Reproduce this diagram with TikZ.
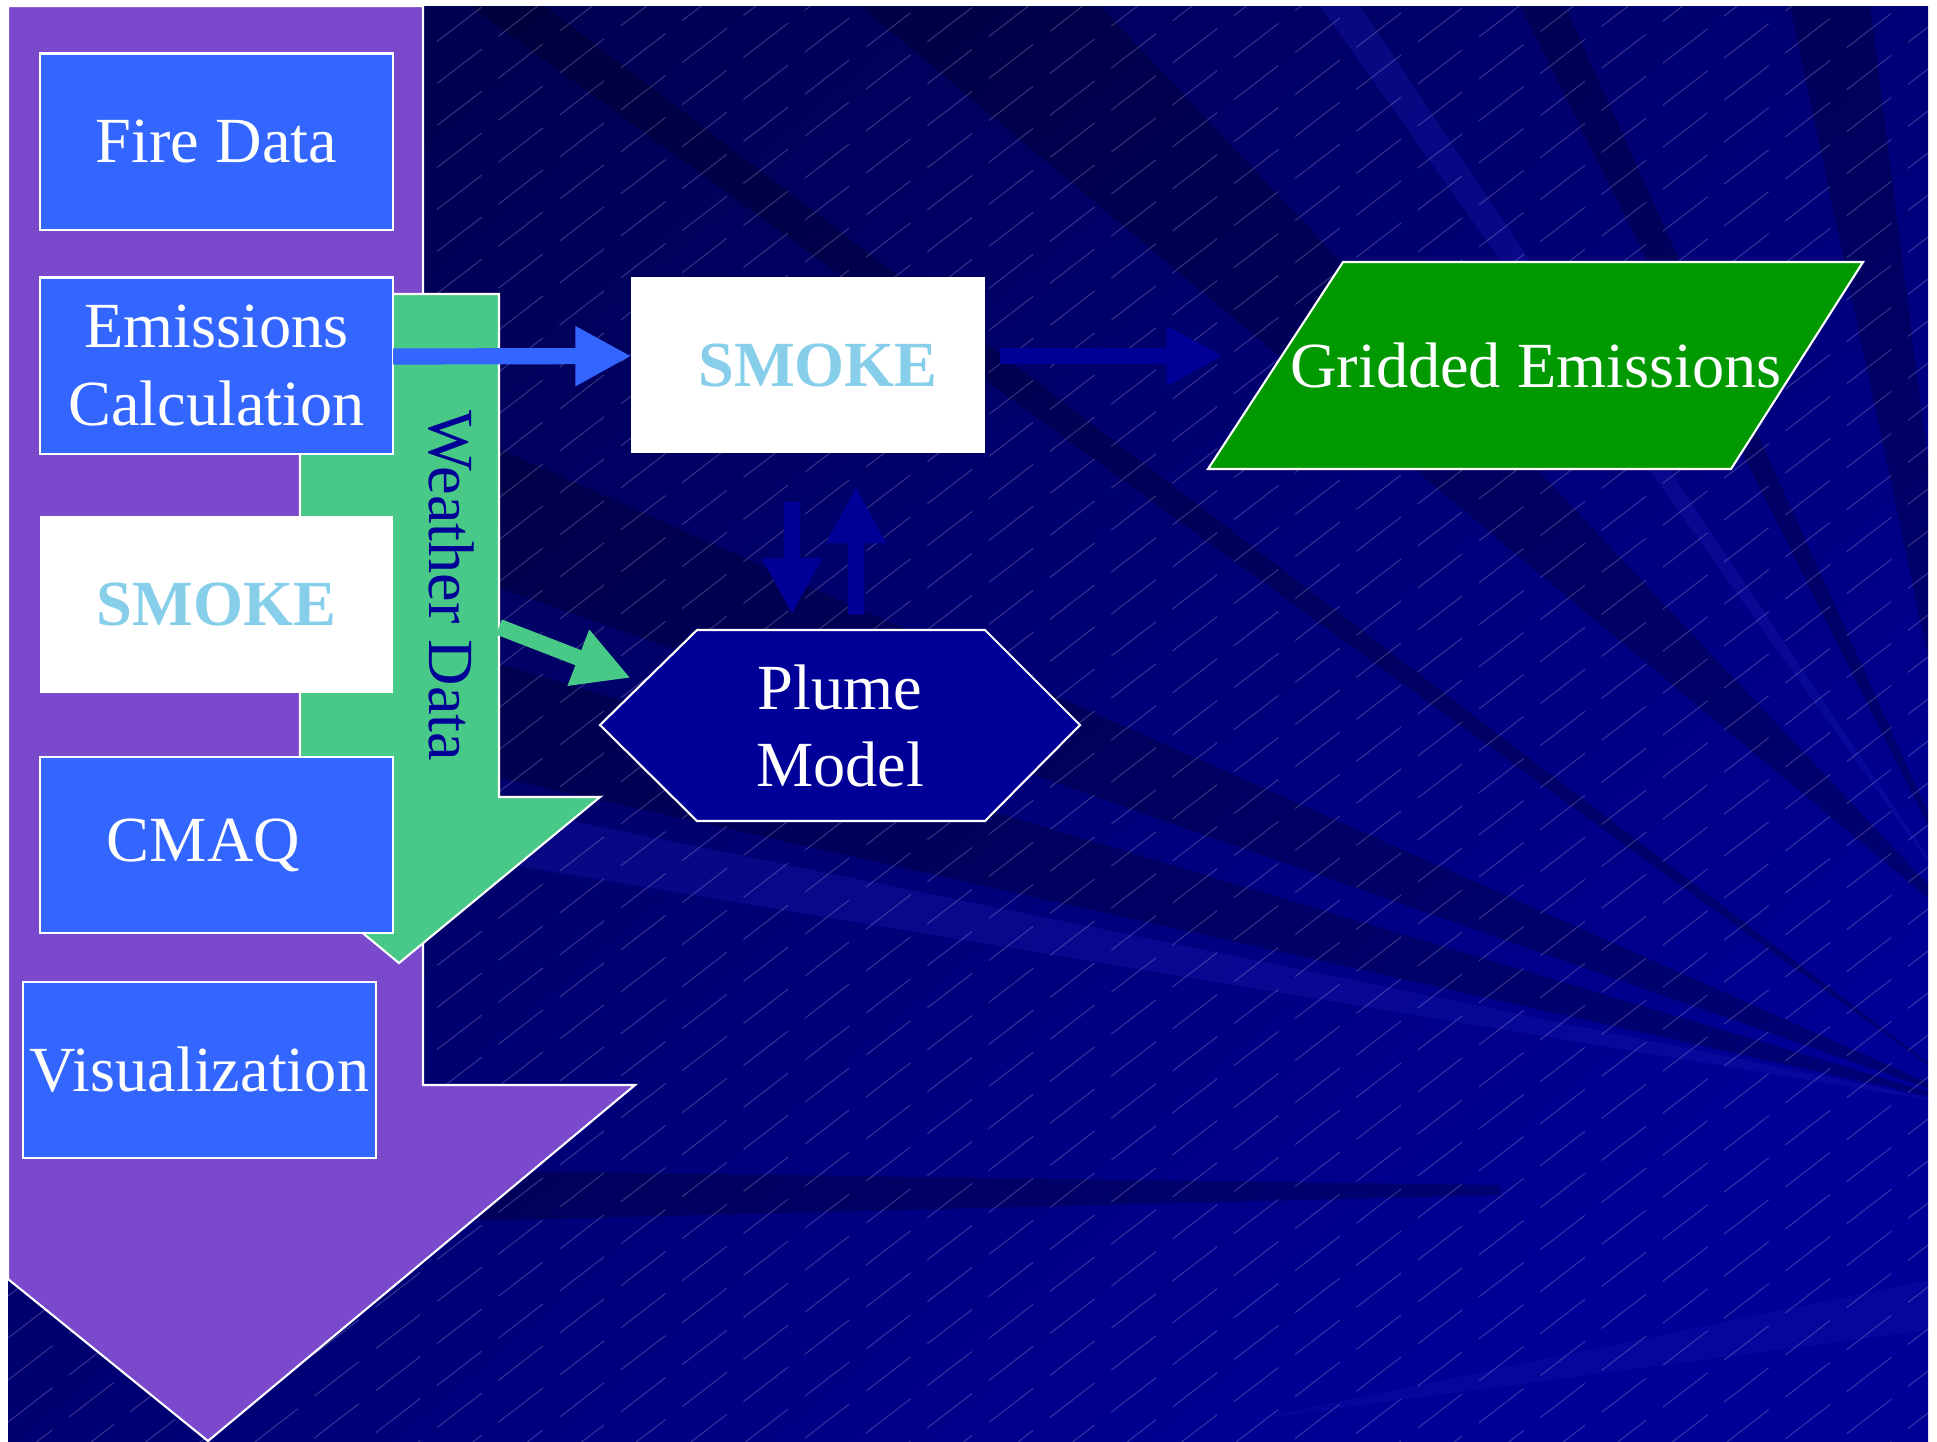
\documentclass[tikz,border=0pt]{standalone}
\usepackage{fontspec}
\setmainfont{Liberation Serif}
\usetikzlibrary{arrows.meta}
\definecolor{bgtop}{RGB}{0,0,82}
\definecolor{bgmid}{RGB}{0,0,118}
\definecolor{bgbottom}{RGB}{0,0,150}
\definecolor{bglight}{RGB}{24,24,175}
\definecolor{flowpurple}{RGB}{123,73,204}
\definecolor{weathergreen}{RGB}{72,201,135}
\definecolor{weatherblue}{RGB}{0,0,150}
\definecolor{boxblue}{RGB}{51,102,255}
\definecolor{smokeblue}{RGB}{135,206,235}
\definecolor{plumeblue}{RGB}{0,0,153}
\definecolor{gridgreen}{RGB}{0,153,0}
\newcommand\slidefont{\fontsize{18.3}{22}\selectfont}
\begin{document}
\begin{tikzpicture}[x=0.01cm, y=-0.01cm,
  main box/.style={draw=white, line width=0.6pt, fill=boxblue, text=white, font=\slidefont, align=center, minimum width=3.53cm, minimum height=1.76cm, inner sep=0pt, outer sep=0pt},
  smoke box/.style={main box, draw=none, fill=white, text=smokeblue, font=\slidefont\bfseries},
  label node/.style={text=white, font=\slidefont, align=center, inner sep=0pt, outer sep=0pt},
  flow arrow/.style={line width=4.6pt, -{Triangle[length=0.56cm, width=0.56cm]}},
  dark ray/.style={fill=black, opacity=0.22},
  light ray/.style={fill=bglight, opacity=0.35},
  hatch line/.style={white, opacity=0.2, line width=0.3pt, dash pattern=on 16pt off 6pt},
  white edge/.style={draw=white, line width=0.6pt}]
\useasboundingbox (0,0) rectangle (1937,1441);
% background
\shade[top color=bgtop, middle color=bgmid, bottom color=bgbottom, shading angle=40] (8,6) rectangle (1928,1441);
\begin{scope}
\clip (8,6) rectangle (1928,1441);
\fill[dark ray] (1990,1110) -- (470,6) -- (545,6) -- cycle;
\fill[dark ray] (1990,950) -- (860,6) -- (1100,6) -- cycle;
\fill[dark ray] (1990,950) -- (1520,6) -- (1565,6) -- cycle;
\fill[dark ray] (1990,950) -- (1790,6) -- (1870,6) -- cycle;
\fill[dark ray] (1990,1110) -- (420,414) -- (420,560) -- cycle;
\fill[dark ray] (1990,1110) -- (420,640) -- (420,760) -- cycle;
\fill[light ray] (1990,1110) -- (420,790) -- (420,850) -- cycle;
\fill[light ray] (1990,950) -- (1320,6) -- (1360,6) -- cycle;
\fill[dark ray] (423,1170) -- (1500,1185) -- (1500,1195) -- (423,1222) -- cycle;
\fill[light ray, opacity=0.25] (1928,1280) -- (1928,1330) -- (1250,1420) -- cycle;
\foreach \c in {0,42,...,2940}
  \draw[hatch line] (8,\c-6) -- (1928,\c-1485);
\end{scope}
% big arrows
\filldraw[fill=flowpurple, white edge] (8,6) -- (423,6) -- (423,1085) -- (635,1085) -- (208,1441) -- (8,1279) -- cycle;
\filldraw[fill=weathergreen, white edge] (300,294) -- (499,294) -- (499,797) -- (600,797) -- (399,963) -- (198,797) -- (300,797) -- cycle;
\node[rotate=-90, text=weatherblue, font=\slidefont, inner sep=0pt] (weather) at (451,586) {Weather Data};
\coordinate (wout) at (499,627);
% boxes
\node[main box] (fire) at (216.5,141.5) {Fire Data};
\node[main box] (emis) at (216.5,365.5) {Emissions\\Calculation};
\node[smoke box] (smokeA) at (216.5,604.5) {SMOKE};
\node[main box] (cmaq) at (216.5,845) {CMAQ\hspace*{0.26cm}};
\node[main box] (vis) at (199.5,1070) {Visualization};
\node[smoke box] (smokeB) at (808,365) {\hspace*{0.2cm}SMOKE};
\filldraw[fill=plumeblue, white edge] (600,725) -- (697,630) -- (985,630) -- (1080,725) -- (985,821) -- (697,821) -- cycle;
\node[label node, minimum width=2.88cm, minimum height=1.91cm] (plume) at (840,726) {Plume\\Model};
\filldraw[fill=gridgreen, white edge] (1343,262) -- (1863,262) -- (1731,469) -- (1208,469) -- cycle;
\node[label node, minimum width=5.2cm, minimum height=2.07cm] (grid) at (1536,365) {Gridded Emissions};
% connectors
\draw[flow arrow, boxblue] ([yshift=0.09cm]emis.east) -- ([yshift=0.09cm]smokeB.west);
\draw[flow arrow, plumeblue, shorten <=0.15cm, shorten >=0.53cm] ([yshift=0.09cm]smokeB.east) -- ([yshift=0.09cm]grid.west);
\draw[flow arrow, plumeblue, shorten <=0.49cm, shorten >=0.16cm] ([xshift=-0.16cm]smokeB.south) -- ([xshift=-0.48cm]plume.north);
\draw[flow arrow, plumeblue, shorten <=0.16cm, shorten >=0.34cm] ([xshift=0.16cm]plume.north) -- ([xshift=0.48cm]smokeB.south);
\draw[flow arrow, weathergreen, shorten >=0.7cm] (wout) -- (plume.171);
\end{tikzpicture}
\end{document}
